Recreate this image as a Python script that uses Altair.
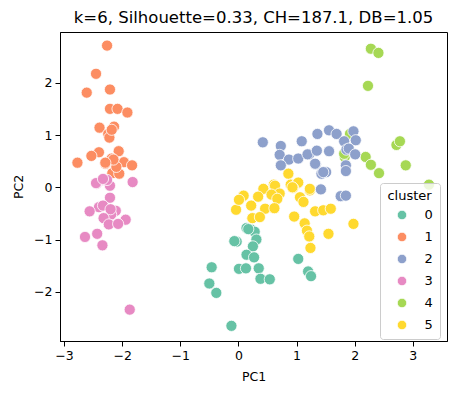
import altair as alt
import pandas as pd

# cluster 1 (orange)
c1_x = [-2.26, -2.45, -2.61, -2.21, -2.21, -2.08, -1.91, -2.39, -2.14, -2.24, -2.22, -2.18,
        -2.40, -2.53, -2.06, -2.77, -2.29, -2.18, -1.97, -1.83, -2.17, -2.05, -2.10, -2.15, -2.29]
c1_y = [2.71, 2.17, 1.81, 1.87, 1.50, 1.50, 1.43, 1.14, 1.16, 1.02, 0.95, 1.10,
        0.67, 0.60, 0.69, 0.47, 0.45, 0.55, 0.48, 0.42, 0.27, 0.26, 0.39, 0.53, 0.47]
# cluster 3 (pink)
c3_x = [-2.44, -2.34, -2.21, -2.26, -1.82, -2.21, -2.40, -2.56, -2.33, -2.11, -2.19, -2.32,
        -1.94, -2.23, -2.07, -2.43, -2.64, -2.34, -1.87, -2.45, -2.33, -2.20]
c3_y = [0.07, 0.14, 0.03, 0.14, 0.10, -0.20, -0.38, -0.46, -0.35, -0.45, -0.52, -0.59,
        -0.62, -0.71, -0.70, -0.89, -0.95, -1.11, -2.34, 0.08, 0.16, -0.42]
# cluster 0 (teal)
c0_x = [0.14, 0.22, 0.28, 0.31, -0.03, -0.07, 0.25, 0.14, 0.27, -0.46, 0.01, 0.13, 0.35,
        0.38, 0.54, -0.50, -0.38, 1.03, 1.20, 1.25, -0.12, 0.17]
c0_y = [-0.78, -0.81, -0.85, -1.00, -1.04, -1.03, -1.13, -1.29, -1.34, -1.53, -1.56, -1.55, -1.55,
        -1.75, -1.76, -1.84, -2.02, -1.37, -1.61, -1.70, -2.65, -0.80]
# cluster 5 (yellow)
c5_x = [0.86, 0.43, 0.61, 0.63, 0.71, 0.90, 1.01, 1.03, 0.94, 0.08, 0.09, 0.34, 0.57, 0.67,
        1.06, 1.23, 1.23, 1.12, 0.22, -0.04, 0.01, 0.46, 0.62, 1.32, 1.46, 1.59, 0.24, 0.37,
        0.96, 1.14, 1.18, 1.22, 1.55, 1.24, 1.98, 0.93]
c5_y = [0.26, -0.03, 0.05, 0.03, -0.12, 0.05, 0.07, 0.09, -0.01, -0.17, -0.16, -0.18, -0.14, -0.22,
        -0.19, -0.06, -0.03, -0.28, -0.35, -0.43, -0.24, -0.41, -0.40, -0.46, -0.44, -0.41, -0.59, -0.57,
        -0.56, -0.69, -0.83, -0.94, -0.89, -1.16, -0.70, 0.00]
# cluster 4 (lime)
c4_x = [2.28, 2.41, 2.23, 2.72, 2.78, 2.19, 2.28, 2.42, 2.88, 3.28, 1.92, 1.83, 1.82]
c4_y = [2.65, 2.57, 1.94, 0.81, 0.88, 0.58, 0.43, 0.27, 0.42, 0.05, 1.02, 0.58, 0.64]
# cluster 2 (blue)
c2_x = [0.42, 0.73, 1.09, 1.36, 1.56, 1.69, 1.98, 2.02, 1.82, 0.71, 0.87, 1.03, 1.22, 1.19,
        1.35, 1.56, 1.86, 1.90, 2.01, 0.73, 1.33, 1.32, 1.51, 1.43, 1.46, 1.85, 1.85, 1.42, 1.76, 1.85]
c2_y = [0.86, 0.79, 0.88, 1.02, 1.09, 1.02, 1.07, 0.90, 0.88, 0.62, 0.53, 0.55, 0.63, 0.63,
        0.70, 0.69, 0.72, 0.74, 0.63, 0.42, 0.44, 0.45, 0.29, 0.26, 0.29, 0.42, 0.31, -0.04, -0.17, -0.16]

clusters = ["0", "1", "2", "3", "4", "5"]
palette = ["#66c2a5", "#fc8d62", "#8da0cb", "#e78ac3", "#a6d854", "#ffd92f"]
x_ticks = [-3, -2, -1, 0, 1, 2, 3]
y_ticks = [-2, -1, 0, 1, 2]

rows = []
for lab, xs, ys in [("1", c1_x, c1_y), ("3", c3_x, c3_y), ("0", c0_x, c0_y),
                    ("5", c5_x, c5_y), ("4", c4_x, c4_y), ("2", c2_x, c2_y)]:
    for a, b in zip(xs, ys):
        rows.append({"PC1": a, "PC2": b, "cluster": lab})
df = pd.DataFrame(rows)
df["idx"] = range(len(df))

FONT = "DejaVu Sans"

chart = alt.Chart(df).mark_point(
    filled=True, shape="circle", size=125, stroke="white", strokeWidth=0.8, opacity=1
).encode(
    x=alt.X("PC1:Q", title="PC1",
            scale=alt.Scale(domain=[-3.07, 3.59], nice=False, zero=False),
            axis=alt.Axis(values=x_ticks, format="d", grid=False, tickSize=5,
                          labelPadding=3, titlePadding=9)),
    y=alt.Y("PC2:Q", title="PC2",
            scale=alt.Scale(domain=[-2.94, 2.97], nice=False, zero=False),
            axis=alt.Axis(values=y_ticks, format="d", grid=False, tickSize=5,
                          labelPadding=3, titlePadding=8)),
    color=alt.Color("cluster:N", scale=alt.Scale(domain=clusters, range=palette),
                    legend=alt.Legend(title="cluster", orient="none", legendX=320, legendY=151)),
    order=alt.Order("idx:Q"),
).properties(
    width=387, height=309,
    title=alt.TitleParams("k=6, Silhouette=0.33, CH=187.1, DB=1.05", fontSize=16.5,
                          font=FONT, fontWeight="normal", color="black",
                          offset=6, anchor="middle"),
    padding={"left": 52, "top": 24, "right": 2, "bottom": 50},
    autosize=alt.AutoSizeParams(type="none"),
).configure_view(
    stroke="black", strokeWidth=1
).configure_axis(
    domainColor="black", tickColor="black", labelColor="black", titleColor="black",
    labelFont=FONT, titleFont=FONT, labelFontSize=12.5, titleFontSize=12.5,
    titleFontWeight="normal", domainWidth=1, tickWidth=1
).configure_legend(
    fillColor="rgba(255,255,255,0.8)", strokeColor="#cccccc", cornerRadius=3,
    padding=6.5, titleFont=FONT, labelFont=FONT, titleFontSize=13, labelFontSize=13,
    titleFontWeight="normal", titleColor="black", labelColor="black",
    titleAnchor="middle", titlePadding=6, rowPadding=8, symbolSize=90,
    symbolOffset=9, labelOffset=16, symbolStrokeColor="white", symbolStrokeWidth=0.8,
    symbolType="circle"
)

chart.save("out.html", embed_options={"renderer": "svg", "actions": False})
